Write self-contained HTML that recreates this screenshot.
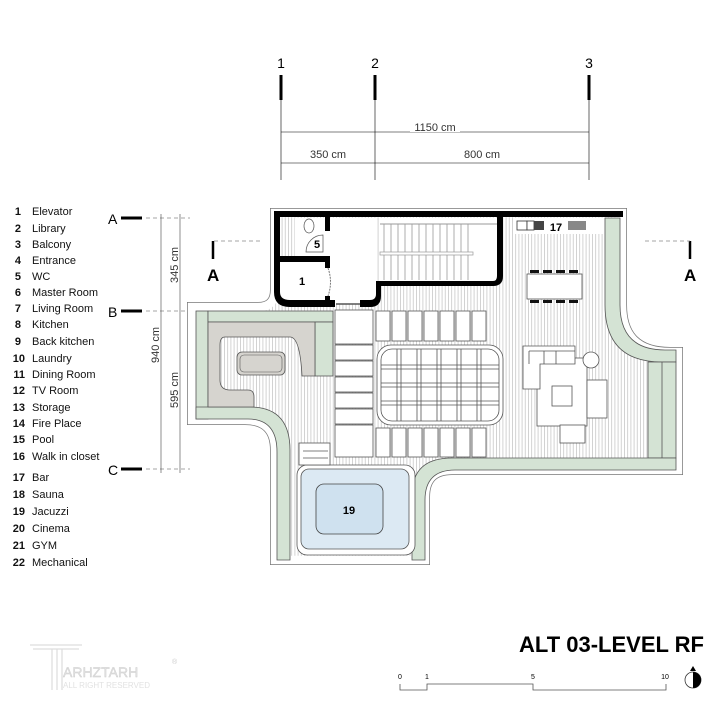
<!DOCTYPE html>
<html><head><meta charset="utf-8"><style>
body{margin:0;background:#fff}
svg{display:block}
text{font-family:"Liberation Sans",Arial,sans-serif}
</style></head><body>
<svg width="720" height="720" viewBox="0 0 720 720" xmlns="http://www.w3.org/2000/svg">
<defs>
<pattern id="h" width="3.2" height="10" patternUnits="userSpaceOnUse"><rect width="3.2" height="10" fill="#fff"/><line x1="0.5" y1="0" x2="0.5" y2="10" stroke="#c8c8c8" stroke-width="0.8"/></pattern>
</defs>
<g stroke="#000">
<line x1="281" y1="75" x2="281" y2="100" stroke-width="3"/><line x1="281" y1="100" x2="281" y2="180" stroke-width="0.6"/>
<line x1="375" y1="75" x2="375" y2="100" stroke-width="3"/><line x1="375" y1="100" x2="375" y2="180" stroke-width="0.6"/>
<line x1="589" y1="75" x2="589" y2="100" stroke-width="3"/><line x1="589" y1="100" x2="589" y2="180" stroke-width="0.6"/>
<line x1="281" y1="132" x2="589" y2="132" stroke-width="0.6"/>
<line x1="281" y1="163" x2="589" y2="163" stroke-width="0.6"/>
</g>
<g font-size="14" text-anchor="middle"><text x="281" y="68">1</text><text x="375" y="68">2</text><text x="589" y="68">3</text></g>
<g font-size="11" fill="#333"><rect x="410" y="120" width="50" height="12" fill="#fff"/><text x="435" y="131" text-anchor="middle">1150 cm</text><text x="328" y="158" text-anchor="middle">350 cm</text><text x="482" y="158" text-anchor="middle">800 cm</text></g>
<g font-size="11" fill="#111">
<g font-weight="bold" text-anchor="end">
<text x="21" y="215">1</text><text x="21" y="232">2</text><text x="21" y="248">3</text><text x="21" y="264">4</text><text x="21" y="280">5</text><text x="21" y="296">6</text><text x="21" y="312">7</text><text x="21" y="328">8</text><text x="21" y="345">9</text><text x="25" y="362">10</text><text x="25" y="378">11</text><text x="25" y="394">12</text><text x="25" y="411">13</text><text x="25" y="427">14</text><text x="25" y="443">15</text><text x="25" y="460">16</text><text x="25" y="481">17</text><text x="25" y="498">18</text><text x="25" y="515">19</text><text x="25" y="532">20</text><text x="25" y="549">21</text><text x="25" y="566">22</text>
</g>
<text x="32" y="215">Elevator</text><text x="32" y="232">Library</text><text x="32" y="248">Balcony</text><text x="32" y="264">Entrance</text><text x="32" y="280">WC</text><text x="32" y="296">Master Room</text><text x="32" y="312">Living Room</text><text x="32" y="328">Kitchen</text><text x="32" y="345">Back kitchen</text><text x="32" y="362">Laundry</text><text x="32" y="378">Dining Room</text><text x="32" y="394">TV Room</text><text x="32" y="411">Storage</text><text x="32" y="427">Fire Place</text><text x="32" y="443">Pool</text><text x="32" y="460">Walk in closet</text><text x="32" y="481">Bar</text><text x="32" y="498">Sauna</text><text x="32" y="515">Jacuzzi</text><text x="32" y="532">Cinema</text><text x="32" y="549">GYM</text><text x="32" y="566">Mechanical</text>
</g>
<g font-size="14">
<text x="108" y="224">A</text><text x="108" y="317">B</text><text x="108" y="475">C</text>
<line x1="121" y1="218" x2="142" y2="218" stroke="#000" stroke-width="3"/>
<line x1="121" y1="311" x2="142" y2="311" stroke="#000" stroke-width="3"/>
<line x1="121" y1="469" x2="142" y2="469" stroke="#000" stroke-width="3"/>
<g stroke="#888" stroke-width="0.7" stroke-dasharray="4,3"><line x1="146" y1="218" x2="190" y2="218"/><line x1="146" y1="311" x2="190" y2="311"/><line x1="146" y1="469" x2="190" y2="469"/></g>
<g stroke="#444" stroke-width="0.6"><line x1="161" y1="214" x2="161" y2="473"/><line x1="180" y1="214" x2="180" y2="473"/></g>
<g font-size="11" fill="#333">
<text transform="translate(178,265) rotate(-90)" text-anchor="middle">345 cm</text>
<text transform="translate(159,345) rotate(-90)" text-anchor="middle">940 cm</text>
<text transform="translate(178,390) rotate(-90)" text-anchor="middle">595 cm</text></g>
<text x="207" y="281" font-size="17" font-weight="bold">A</text>
<line x1="213" y1="241" x2="213" y2="259" stroke="#000" stroke-width="2.5"/>
<line x1="214" y1="241" x2="262" y2="241" stroke="#888" stroke-width="0.7" stroke-dasharray="4,3"/>
<text x="684" y="281" font-size="17" font-weight="bold">A</text>
<line x1="690" y1="241" x2="690" y2="259" stroke="#000" stroke-width="2.5"/>
<line x1="645" y1="241" x2="690" y2="241" stroke="#888" stroke-width="0.7" stroke-dasharray="4,3"/>
</g>
<path d="M275,213 H622 V305 Q622,352 670,352 H678 V470 H452 Q425,470 425,497 V560 H275 V450 Q275,420 245,420 H192 V307 H258 Q275,307 275,290 Z" fill="none" stroke="#777" stroke-width="10"/>
<path d="M275,213 H622 V305 Q622,352 670,352 H678 V470 H452 Q425,470 425,497 V560 H275 V450 Q275,420 245,420 H192 V307 H258 Q275,307 275,290 Z" fill="url(#h)" stroke="#fff" stroke-width="8.5"/>
<g fill="#d4e3d4" stroke="#555" stroke-width="0.8">
<rect x="196" y="311" width="12" height="108"/>
<rect x="208" y="311" width="125" height="11"/>
<rect x="315" y="322" width="18" height="54"/>
<path d="M196,407 H250 Q290,407 290,450 V560 H277 V452 Q277,419 248,419 H196 Z"/>
<path d="M605,218 H620 V305 Q620,350 665,350 H676 V362 H662 Q605,362 605,305 Z"/>
<rect x="648" y="362" width="28" height="96"/>
<line x1="662" y1="362" x2="662" y2="458"/>
<path d="M676,458 V470 H455 Q425,470 425,500 V560 H412 V495 Q412,458 452,458 Z"/>
</g>
<path d="M208,322 H315 V376 H302 Q300,337 290,337 H225 Q220,337 220,345 V380 Q220,390 230,390 H248 Q254,390 254,397 V407 H208 Z" fill="#d6d4cf" stroke="#555" stroke-width="0.8"/>
<rect x="237" y="352" width="48" height="23" rx="5" fill="#d6d4cf" stroke="#555" stroke-width="0.8"/>
<rect x="240" y="355" width="42" height="17" rx="4" fill="none" stroke="#555" stroke-width="0.6"/>
<g fill="#fff" stroke="#555" stroke-width="0.8">
<rect x="335" y="310" width="38" height="34"/>
<rect x="335" y="345" width="38" height="15"/><rect x="335" y="361" width="38" height="15"/><rect x="335" y="377" width="38" height="15"/><rect x="335" y="393" width="38" height="15"/><rect x="335" y="409" width="38" height="15"/>
<rect x="335" y="425" width="38" height="32"/>
<rect x="376" y="311" width="14" height="30"/><rect x="392" y="311" width="14" height="30"/><rect x="408" y="311" width="14" height="30"/><rect x="424" y="311" width="14" height="30"/><rect x="440" y="311" width="14" height="30"/><rect x="456" y="311" width="14" height="30"/><rect x="472" y="311" width="14" height="30"/>
<rect x="376" y="428" width="14" height="29"/><rect x="392" y="428" width="14" height="29"/><rect x="408" y="428" width="14" height="29"/><rect x="424" y="428" width="14" height="29"/><rect x="440" y="428" width="14" height="29"/><rect x="456" y="428" width="14" height="29"/><rect x="472" y="428" width="14" height="29"/>
<rect x="377" y="345" width="126" height="80" rx="14"/>
<rect x="381" y="349" width="118" height="72" rx="11"/>
</g>
<g stroke="#555" stroke-width="0.8" fill="none">
<path d="M397,349V421M401,349V421M417,349V421M421,349V421M437,349V421M441,349V421M457,349V421M461,349V421M477,349V421M481,349V421M381,365H499M381,369H499M381,383H499M381,387H499M381,401H499M381,405H499"/>
</g>
<rect x="297" y="465" width="118" height="90" rx="10" fill="#fff" stroke="#555" stroke-width="0.8"/>
<rect x="301" y="469" width="108" height="80" rx="8" fill="#dce9f3" stroke="#555" stroke-width="0.8"/>
<rect x="316" y="484" width="67" height="50" rx="8" fill="#cfe1ef" stroke="#444" stroke-width="0.8"/>
<text x="349" y="514" font-size="11" font-weight="bold" text-anchor="middle">19</text>
<g fill="#fff" stroke="#555" stroke-width="0.8"><rect x="299" y="443" width="31" height="22"/><path d="M303,451H328M303,458H328"/></g>
<rect x="380" y="218" width="118" height="64" fill="#fff"/>
<g stroke="#999" stroke-width="0.8">
<path d="M384,224V280M391,224V280M398,224V280M405,224V280M412,224V280M419,224V280M426,224V280M433,224V280M440,224V280M447,224V280M454,224V280M461,224V280M468,224V280"/>
</g>
<line x1="380" y1="224" x2="498" y2="224" stroke="#999"/>
<rect x="380" y="252" width="93" height="3" fill="#fff" stroke="#999" stroke-width="0.7"/>
<rect x="280" y="218" width="96" height="86" fill="#fff"/>
<rect x="280" y="218" width="15" height="40" fill="url(#h)"/>
<rect x="376" y="286" width="125" height="20" fill="url(#h)"/>
<ellipse cx="309" cy="226" rx="5" ry="7" fill="#fff" stroke="#555" stroke-width="0.7"/>
<path d="M306,252 A17,17 0 0 1 323,235 V252 Z" fill="#fff" stroke="#555" stroke-width="0.7"/>
<text x="317" y="248" font-size="11" font-weight="bold" text-anchor="middle">5</text>
<text x="302" y="285" font-size="11" font-weight="bold" text-anchor="middle">1</text>
<path d="M328,268 Q333,282 328,296" fill="none" stroke="#777" stroke-dasharray="2,1"/>
<g fill="#000">
<rect x="274" y="211" width="349" height="6"/>
<path d="M274,211 H280 V292 Q280,300 290,300 H335 V307 H290 Q274,307 274,292 Z"/>
<rect x="280" y="256" width="50" height="6"/>
<rect x="325" y="217" width="5" height="14"/>
<rect x="325" y="256" width="5" height="12"/>
<rect x="325" y="296" width="5" height="11"/>
<rect x="497" y="211" width="6" height="65"/>
<path d="M503,276 Q503,286 493,286 H381 V296 Q381,307 370,307 H360 V300 H370 Q376,300 376,294 V281 H493 Q497,281 497,276 Z"/>
</g>
<line x1="336" y1="304" x2="360" y2="304" stroke="#555" stroke-width="1.5"/>
<rect x="515" y="218" width="88" height="16" fill="#fff"/>
<rect x="517" y="221" width="10" height="9" fill="#fff" stroke="#333" stroke-width="0.8"/>
<rect x="527" y="221" width="7" height="9" fill="#fff" stroke="#333" stroke-width="0.8"/>
<rect x="534" y="221" width="10" height="9" fill="#444"/>
<text x="556" y="231" font-size="11" font-weight="bold" text-anchor="middle">17</text>
<rect x="568" y="221" width="18" height="9" fill="#888"/>
<rect x="527" y="274" width="55" height="25" fill="#fff" stroke="#555" stroke-width="0.8"/>
<g fill="#111"><rect x="530" y="270" width="9" height="3"/><rect x="543" y="270" width="9" height="3"/><rect x="556" y="270" width="9" height="3"/><rect x="569" y="270" width="9" height="3"/>
<rect x="530" y="300" width="9" height="3"/><rect x="543" y="300" width="9" height="3"/><rect x="556" y="300" width="9" height="3"/><rect x="569" y="300" width="9" height="3"/></g>
<g fill="#fff" stroke="#555" stroke-width="0.8">
<rect x="537" y="358" width="50" height="68"/>
<path d="M523,346 H575 V364 H540 V389 H523 Z"/>
<path d="M529,351 V364 M544,351 V364 M556,351 V364 M529,351 H575"/>
<rect x="552" y="386" width="20" height="20"/>
<rect x="587" y="380" width="20" height="38"/>
<rect x="560" y="425" width="25" height="18"/>
<circle cx="591" cy="360" r="8"/>
</g>
<text x="519" y="652" font-size="22" font-weight="bold">ALT 03-LEVEL RF</text>
<g stroke="#555" stroke-width="0.8" fill="none"><path d="M400,684 V690 H427 V684 H533 V690 H666 V684"/></g>
<g font-size="7" text-anchor="middle"><text x="400" y="679">0</text><text x="427" y="679">1</text><text x="533" y="679">5</text><text x="665" y="679">10</text></g>
<circle cx="693" cy="680" r="8" fill="#fff" stroke="#333" stroke-width="0.8"/>
<path d="M693,672 A8,8 0 0 1 693,688 Z" fill="#000"/>
<path d="M693,666 L690,671 H696 Z" fill="#000"/>
<g fill="none" stroke="#ddd" stroke-width="1.2"><path d="M30,645 H82 M33,649 H79 M52,649 V690 M57,649 V690 M62,649 V690"/></g>
<text x="63" y="677" font-size="14" fill="#e2e2e2" stroke="#ccc" stroke-width="0.4">ARHZTARH</text>
<text x="63" y="688" font-size="8" fill="#e2e2e2">ALL RIGHT RESERVED</text>
<text x="172" y="664" font-size="7" fill="#ccc">®</text>
</svg>
</body></html>
